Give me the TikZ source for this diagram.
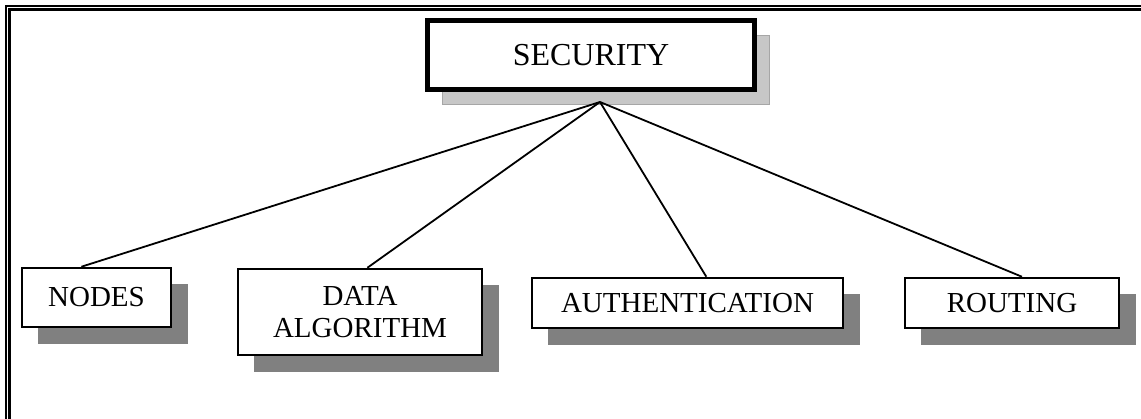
\documentclass[tikz,border=0pt]{standalone}
\usepackage{fontspec}
\setmainfont{Liberation Serif}
\usetikzlibrary{calc,shadows}
\begin{document}
\begin{tikzpicture}[x=1pt,y=-1pt,
  lbl/.style={font=\fontsize{29}{33}\selectfont},
  leafbox/.style={lbl, draw, fill=white, line width=2pt, inner sep=0pt, align=center,
    drop shadow={shadow xshift=16.5pt, shadow yshift=-16.5pt, fill=black!50, opacity=1, draw=none}},
  rootbox/.style={draw, fill=white, line width=5.5pt, inner sep=0pt,
    font=\fontsize{32}{36}\selectfont,
    drop shadow={shadow xshift=15pt, shadow yshift=-15pt, fill=black!22, opacity=1, draw=black!35, line width=0.8pt}},
  conn/.style={line width=1.8pt}]
\useasboundingbox (0,0) rectangle (1141,419);
% frame
\draw[line width=2pt] (5.6,419) -- (5.6,5.6) -- (1141,5.6);
\draw[line width=2.8pt] (9.4,419) -- (9.4,9.4) -- (1141,9.4);
% nodes
\node[rootbox, minimum width=327pt, minimum height=69pt] (sec) at (591,55) {SECURITY};
\coordinate (apex) at (600,102);
\node[leafbox, minimum width=149.5pt, minimum height=59.5pt] (nodes) at (96.5,297.5) {NODES};
\node[leafbox, minimum width=244.5pt, minimum height=86.5pt] (data) at (360,312) {DATA\\[-1pt]ALGORITHM};
\node[leafbox, minimum width=311.5pt, minimum height=50.5pt] (auth) at (687.5,303) {AUTHENTICATION};
\node[leafbox, minimum width=214.5pt, minimum height=50.5pt] (rout) at (1012,303) {ROUTING};
% connectors
\draw[conn] (apex) -- ($(nodes.north west)!0.40!(nodes.north east)$);
\draw[conn] (apex) -- ($(data.north west)!0.53!(data.north east)$);
\draw[conn] (apex) -- ($(auth.north west)!0.56!(auth.north east)$);
\draw[conn] (apex) -- ($(rout.north west)!0.546!(rout.north east)$);
\end{tikzpicture}
\end{document}
